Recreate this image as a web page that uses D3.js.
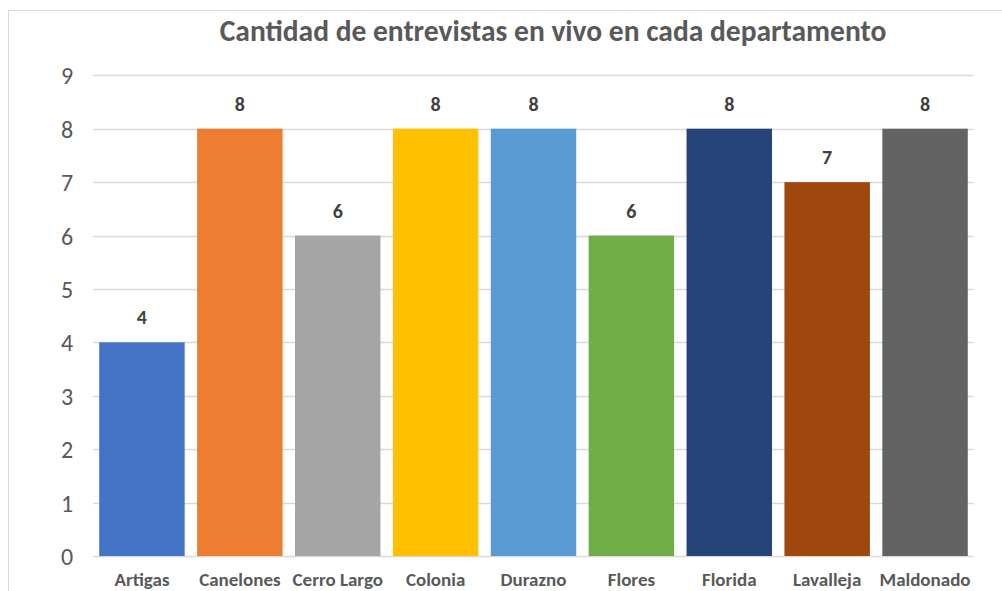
<!DOCTYPE html>
<html><head><meta charset="utf-8">
<script src="https://cdn.jsdelivr.net/npm/d3@7"></script>
<style>body{margin:0;background:#fff}svg{display:block}</style>
</head><body>
<svg id="c" width="1002" height="591"></svg>
<script>
const categories = ["Artigas","Canelones","Cerro Largo","Colonia","Durazno","Flores","Florida","Lavalleja","Maldonado"];
const values = [4,8,6,8,8,6,8,7,8];
const colors = ["#4472C4","#ED7D31","#A5A5A5","#FFC000","#5B9BD5","#70AD47","#264478","#9E480E","#636363"];
const yTicks = [0,1,2,3,4,5,6,7,8,9];
const title = "Cantidad de entrevistas en vivo en cada departamento";

const svg = d3.select("#c");
const font = "Carlito, Calibri, 'Open Sans', 'Noto Sans', sans-serif";
svg.append("rect").attr("x",8.5).attr("y",10.5).attr("width",1100).attr("height",700)
  .attr("fill","#fff").attr("stroke","#d9d9d9").attr("stroke-width",1);

const x = d3.scaleBand().domain(categories).range([93,974]).paddingInner(0.127).paddingOuter(0.0635);
const y = d3.scaleLinear().domain([0,9]).range([556,75.3]);

const g = svg.append("g");
g.selectAll("line.grid").data(yTicks).join("line")
  .attr("x1",93).attr("x2",974)
  .attr("y1",d=>Math.round(y(d))+0.5).attr("y2",d=>Math.round(y(d))+0.5)
  .attr("stroke","#d9d9d9").attr("stroke-width",1.3);

const yAxis = d3.axisLeft(y).tickValues(yTicks).tickSize(0).tickPadding(0);
svg.append("g").attr("transform","translate(67,0)").call(yAxis)
  .call(a=>a.select(".domain").remove())
  .call(a=>a.selectAll(".tick text").attr("dy",8.5))
  .selectAll("text").attr("font-family",font).attr("font-size",24).attr("fill","#595959")
  .attr("text-anchor","middle").attr("x",0);

g.selectAll("rect.bar").data(values).join("rect")
  .attr("x",(d,i)=>x(categories[i])).attr("width",x.bandwidth())
  .attr("y",d=>y(d)).attr("height",d=>y(0)-y(d))
  .attr("fill",(d,i)=>colors[i]);

g.selectAll("text.lbl").data(values).join("text")
  .attr("x",(d,i)=>x(categories[i])+x.bandwidth()/2).attr("y",d=>y(d)-18)
  .attr("text-anchor","middle").attr("font-family",font).attr("font-size",20)
  .attr("font-weight","bold").attr("fill","#404040").text(d=>d);

const xAxis = d3.axisBottom(x).tickSize(0).tickPadding(0);
svg.append("g").attr("transform","translate(0,586)").call(xAxis)
  .call(a=>a.select(".domain").remove())
  .selectAll("text").attr("font-family",font).attr("font-size",19).attr("font-weight","bold")
  .attr("fill","#595959").attr("dy",0).attr("y",0);

svg.append("text").attr("x",553).attr("y",41).attr("text-anchor","middle")
  .attr("font-family",font).attr("font-size",29.5).attr("font-weight","bold")
  .attr("fill","#595959").text(title);
</script>
</body></html>
